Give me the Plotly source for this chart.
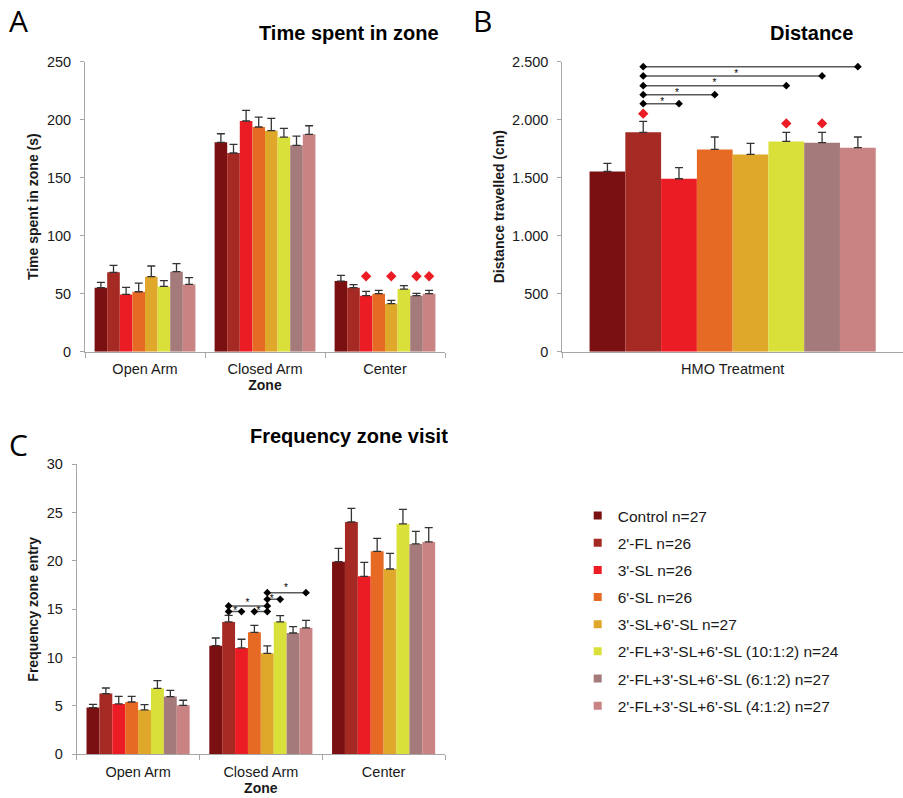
import plotly.graph_objects as go

# ---------------- data ----------------
series = ["Control n=27", "2'-FL n=26", "3'-SL n=26", "6'-SL n=26", "3'-SL+6'-SL n=27",
          "2'-FL+3'-SL+6'-SL (10:1:2) n=24", "2'-FL+3'-SL+6'-SL (6:1:2) n=27",
          "2'-FL+3'-SL+6'-SL (4:1:2) n=27"]
colors = ["#7A1012", "#A52A24", "#EC1C24", "#E66A24", "#E0A82A", "#DAE03A", "#A57A7B", "#C98383"]
zones = ["Open Arm", "Closed Arm", "Center"]

# Panel A: time spent in zone (s) -> per series: [Open Arm, Closed Arm, Center]
time_mean = [
    [55.2, 180.5, 60.9],
    [68.4, 171.3, 55.2],
    [49.4, 198.9, 48.3],
    [51.7, 193.7, 50.0],
    [64.7, 190.5, 41.4],
    [56.3, 185.0, 54.0],
    [69.0, 177.9, 48.3],
    [58.0, 187.4, 50.0],
]
time_sem = [
    [4.6, 7.4, 4.9],
    [6.0, 7.4, 2.6],
    [6.1, 9.1, 3.7],
    [7.5, 8.6, 2.9],
    [9.2, 10.6, 2.9],
    [4.9, 7.5, 2.9],
    [6.9, 8.0, 2.0],
    [5.8, 7.4, 2.9],
]
time_diamond_bars = [2, 4, 6, 7]   # red diamonds over Center bars
time_diamond_y = [65, 65, 65, 65]

# Panel B: distance travelled (cm)
dist_mean = [1554, 1891, 1491, 1744, 1701, 1813, 1802, 1759]
dist_sem = [70, 95, 95, 107, 95, 78, 89, 92]
dist_diamond_bars = [1, 5, 6]
dist_diamond_y = [2052, 1968, 1968]
dist_brk_from = [1, 1, 1, 1, 1]
dist_brk_to = [2, 3, 5, 6, 7]
dist_brk_y = [2138, 2216, 2293, 2377, 2457]
dist_star_pos = [1.53, 1.94, 2.99, 3.60, 3.62]
dist_star_y = [2150, 2225, 2308, 2391, 2497]

# Panel C: frequency zone entry
freq_mean = [
    [4.83, 11.24, 19.93],
    [6.28, 13.69, 24.03],
    [5.21, 11.00, 18.41],
    [5.41, 12.62, 21.00],
    [4.59, 10.45, 19.17],
    [6.83, 13.69, 23.83],
    [5.97, 12.55, 21.76],
    [5.07, 13.07, 21.97],
]
freq_sem = [
    [0.34, 0.79, 1.38],
    [0.58, 0.69, 1.42],
    [0.79, 0.90, 1.45],
    [0.59, 0.72, 1.34],
    [0.55, 0.76, 1.62],
    [0.79, 0.65, 1.51],
    [0.65, 0.65, 1.31],
    [0.52, 0.79, 1.48],
]
freq_brk_zone = 1
freq_brk_from = [1, 3, 1, 4, 4]
freq_brk_to = [2, 4, 4, 5, 7]
freq_brk_y = [14.76, 14.76, 15.34, 16.03, 16.72]
freq_star_pos = [1.51, 3.32, 2.46, 4.35, 5.44]
freq_star_y = [14.75, 14.75, 15.62, 16.03, 17.13]

# ---------------- styling ----------------
W, H = 903, 798
BARGAP = 0.16
NB = len(series)
BW = (1 - BARGAP) / NB
FONT = "Liberation Sans, Arial, sans-serif"
AXC = "#A6A6A6"
TXT = "#1a1a1a"
TICKSIZE = 14.5


def bar_x(zone, j):
    return zone + (j - (NB - 1) / 2) * BW


def px_x(p):
    return p / W


def px_y(p):
    return 1 - p / H


fig = go.Figure()

err_style = dict(type="data", symmetric=False, color="#333333", thickness=1.3, width=4)

for j, (name, col) in enumerate(zip(series, colors)):
    fig.add_trace(go.Bar(
        x=[0, 1, 2], y=time_mean[j], name=name, legendgroup=name, showlegend=False,
        marker=dict(color=col, line=dict(width=0)),
        error_y=dict(array=time_sem[j], arrayminus=[0, 0, 0], **err_style),
        xaxis="x", yaxis="y"))
    fig.add_trace(go.Bar(
        x=[0], y=[dist_mean[j]], name=name, legendgroup=name, showlegend=False,
        marker=dict(color=col, line=dict(width=0)),
        error_y=dict(array=[dist_sem[j]], arrayminus=[0], **err_style),
        xaxis="x2", yaxis="y2"))
    fig.add_trace(go.Bar(
        x=[0, 1, 2], y=freq_mean[j], name=name, legendgroup=name, showlegend=False,
        marker=dict(color=col, line=dict(width=0)),
        error_y=dict(array=freq_sem[j], arrayminus=[0, 0, 0], **err_style),
        xaxis="x3", yaxis="y3"))
    # legend entry with small square swatch
    fig.add_trace(go.Scatter(
        x=[None], y=[None], mode="markers", name=name, legendgroup=name,
        marker=dict(symbol="square", size=8, color=col),
        xaxis="x3", yaxis="y3"))

# red diamonds panel A
fig.add_trace(go.Scatter(
    x=[bar_x(2, j) for j in time_diamond_bars], y=time_diamond_y, mode="markers",
    marker=dict(symbol="diamond", size=8, color="#EC1C24"), showlegend=False,
    hoverinfo="skip", xaxis="x", yaxis="y"))
# red diamonds panel B
fig.add_trace(go.Scatter(
    x=[bar_x(0, j) for j in dist_diamond_bars], y=dist_diamond_y, mode="markers",
    marker=dict(symbol="diamond", size=8, color="#EC1C24"), showlegend=False,
    hoverinfo="skip", xaxis="x2", yaxis="y2"))

# significance brackets panel B
bx, by = [], []
for a, b, yv in zip(dist_brk_from, dist_brk_to, dist_brk_y):
    bx += [bar_x(0, a), bar_x(0, b), None]
    by += [yv, yv, None]
fig.add_trace(go.Scatter(
    x=bx, y=by, mode="lines+markers", line=dict(color="#5a5a5a", width=1.5),
    marker=dict(symbol="diamond", size=6, color="black"), showlegend=False,
    hoverinfo="skip", xaxis="x2", yaxis="y2"))
fig.add_trace(go.Scatter(
    x=[bar_x(0, p) for p in dist_star_pos], y=dist_star_y, mode="text",
    text=["*"] * len(dist_star_pos), textfont=dict(size=10, color="#000000", family=FONT),
    showlegend=False, hoverinfo="skip", xaxis="x2", yaxis="y2"))

# significance brackets panel C
cx, cy = [], []
for a, b, yv in zip(freq_brk_from, freq_brk_to, freq_brk_y):
    cx += [bar_x(freq_brk_zone, a), bar_x(freq_brk_zone, b), None]
    cy += [yv, yv, None]
fig.add_trace(go.Scatter(
    x=cx, y=cy, mode="lines+markers", line=dict(color="#5a5a5a", width=1.5),
    marker=dict(symbol="diamond", size=6, color="black"), showlegend=False,
    hoverinfo="skip", xaxis="x3", yaxis="y3"))
fig.add_trace(go.Scatter(
    x=[bar_x(freq_brk_zone, p) for p in freq_star_pos], y=freq_star_y, mode="text",
    text=["*"] * len(freq_star_pos), textfont=dict(size=10, color="#000000", family=FONT),
    showlegend=False, hoverinfo="skip", xaxis="x3", yaxis="y3"))


def yaxis(dom, rng, title, dtick, fmt=None, anchor="x", standoff=6):
    d = dict(domain=dom, range=rng, anchor=anchor, showgrid=False, zeroline=False,
             showline=True, linecolor=AXC, linewidth=1, ticks="outside", ticklen=4,
             tickcolor=AXC, tickwidth=1, dtick=dtick, tick0=0, automargin=False,
             tickfont=dict(family=FONT, size=TICKSIZE, color=TXT), ticklabelstandoff=standoff,
             title=dict(text=title, font=dict(family=FONT, size=14, color=TXT, weight="bold"),
                        standoff=4),
             fixedrange=True)
    if fmt:
        d["tickformat"] = fmt
    return d


def xaxis(dom, rng, vals, labels, bounds, title, anchor):
    return dict(domain=dom, range=rng, anchor=anchor, showgrid=False, zeroline=False,
                showline=True, linecolor=AXC, linewidth=1, ticks="", automargin=False,
                tickmode="array", tickvals=vals, ticktext=labels,
                tickfont=dict(family=FONT, size=TICKSIZE, color=TXT), ticklabelstandoff=4,
                minor=dict(tickmode="array", tickvals=bounds, ticks="outside", ticklen=5,
                           tickcolor=AXC, tickwidth=1, showgrid=False),
                title=dict(text=title, font=dict(family=FONT, size=14, color=TXT, weight="bold"),
                           standoff=3),
                fixedrange=True)


fig.update_layout(
    width=W, height=H, margin=dict(l=0, r=0, t=0, b=0),
    paper_bgcolor="white", plot_bgcolor="white",
    barmode="group", bargap=BARGAP, bargroupgap=0,
    separators=",.",
    font=dict(family=FONT, color=TXT),
    xaxis=xaxis([px_x(85), px_x(445)], [-0.5, 2.5], [0, 1, 2], zones,
                [-0.5, 0.5, 1.5, 2.5], "Zone", "y"),
    yaxis=yaxis([px_y(351.7), px_y(61.7)], [0, 250], "Time spent in zone (s)", 50, anchor="x"),
    xaxis2=xaxis([px_x(562.3), 1.0], [-0.5, 0.5], [0], ["HMO Treatment"],
                 [-0.5, 0.5], "", "y2"),
    yaxis2=yaxis([px_y(351.7), px_y(61.7)], [0, 2500], "Distance travelled (cm)", 500,
                 fmt=",", anchor="x2"),
    xaxis3=xaxis([px_x(76.7), px_x(445)], [-0.5, 2.5], [0, 1, 2], zones,
                 [-0.5, 0.5, 1.5, 2.5], "Zone", "y3"),
    yaxis3=yaxis([px_y(754.3), px_y(464.3)], [0, 30], "Frequency zone entry", 5, anchor="x3"),
    legend=dict(x=px_x(577.7), y=px_y(499), xanchor="left", yanchor="top",
                font=dict(family=FONT, size=15.5, color=TXT), traceorder="grouped",
                tracegroupgap=4, bgcolor="rgba(0,0,0,0)", borderwidth=0),
    showlegend=True,
)

annotations = [
    dict(text="<b>Time spent in zone</b>", x=px_x(349), y=px_y(33)),
    dict(text="<b>Distance</b>", x=px_x(811), y=px_y(33)),
    dict(text="<b>Frequency zone visit</b>", x=px_x(349), y=px_y(436)),
]
for a in annotations:
    fig.add_annotation(xref="paper", yref="paper", xanchor="center", yanchor="middle",
                       showarrow=False, font=dict(family=FONT, size=20, color="black"), **a)
for letter, lx, ly in [("A", 18, 20), ("B", 482, 21), ("C", 18, 444)]:
    fig.add_annotation(text=letter, xref="paper", yref="paper", x=px_x(lx), y=px_y(ly),
                       xanchor="center", yanchor="middle", showarrow=False,
                       font=dict(family="Open Sans, sans-serif", size=30, color="black"))

fig.write_html("out.html")
